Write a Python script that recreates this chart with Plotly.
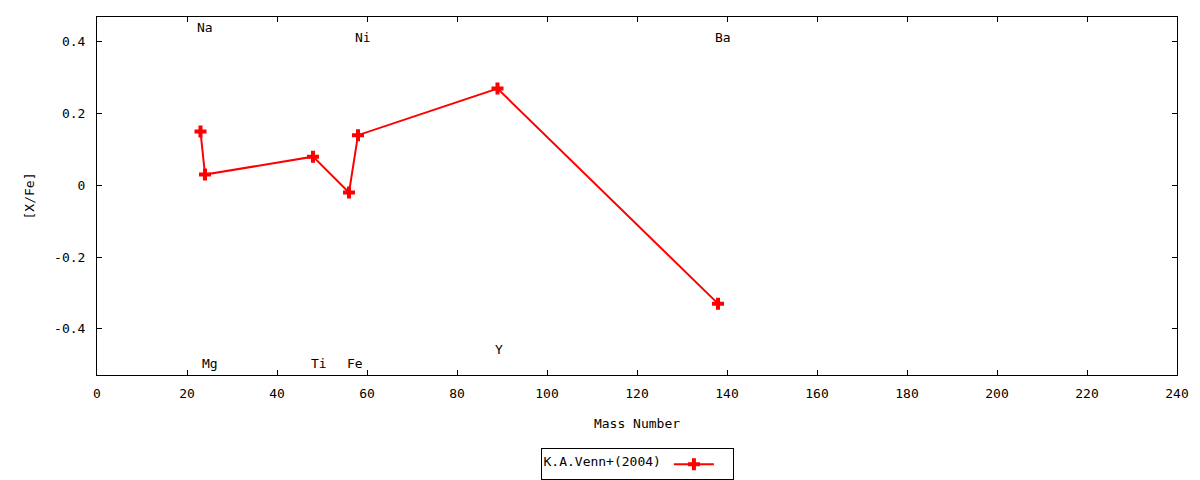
import plotly.graph_objects as go

# K.A.Venn+(2004) abundances
mass_number = [23, 24, 48, 56, 58, 89, 138]
x_fe = [0.15, 0.03, 0.08, -0.02, 0.14, 0.27, -0.33]

# element labels (left-justified, gnuplot style)
elements = ["Na", "Mg", "Ti", "Fe", "Ni", "Y", "Ba"]
label_x = [21.8, 22.9, 47.1, 55.0, 56.8, 88.1, 136.8]
label_y = [0.44, -0.496, -0.496, -0.496, 0.412, -0.457, 0.412]

x_ticks = list(range(0, 241, 20))
y_ticks = [-0.4, -0.2, 0, 0.2, 0.4]
y_ticktext = ["-0.4", "-0.2", "0", "0.2", "0.4"]

FONT = "DejaVu Sans Mono"

fig = go.Figure()
fig.add_scatter(
    x=mass_number,
    y=x_fe,
    mode="lines+markers",
    name=" ",
    line=dict(color="red", width=2),
    marker=dict(symbol="cross", size=10, color="red"),
)

for name, lx, ly in zip(elements, label_x, label_y):
    fig.add_annotation(
        x=lx,
        y=ly,
        text=name,
        showarrow=False,
        xanchor="left",
        yanchor="middle",
        font=dict(family=FONT, size=13, color="black"),
    )

axis_common = dict(
    showline=True,
    linecolor="black",
    linewidth=1,
    mirror="ticks",
    ticks="inside",
    ticklen=5,
    tickcolor="black",
    showgrid=False,
    zeroline=False,
    tickfont=dict(family=FONT, size=13, color="black"),
)

fig.update_xaxes(
    range=[0, 240],
    tickvals=x_ticks,
    ticklabelstandoff=6,
    title=dict(text="Mass Number", font=dict(family=FONT, size=13, color="black"), standoff=19),
    **axis_common,
)
fig.update_yaxes(
    range=[-0.529, 0.4695],
    tickvals=y_ticks,
    ticktext=y_ticktext,
    ticklabelstandoff=8,
    title=dict(text="[X/Fe]", font=dict(family=FONT, size=13, color="black"), standoff=16),
    **axis_common,
)

# page body has an 8px margin, so the figure is sized 1192x472
fig.update_layout(
    width=1192,
    height=472,
    margin=dict(l=89, r=23, t=9, b=105, autoexpand=False),
    plot_bgcolor="white",
    paper_bgcolor="white",
    font=dict(family=FONT, size=13, color="black"),
    showlegend=True,
    legend=dict(
        orientation="h",
        x=0.5,
        xanchor="center",
        y=-0.205,
        yanchor="top",
        bordercolor="black",
        borderwidth=1,
        title=dict(text="K.A.Venn+(2004)", side="left", font=dict(family=FONT, size=13)),
        font=dict(family=FONT, size=13),
        itemwidth=40,
        tracegroupgap=0,
    ),
)

fig.write_html("out.html")
